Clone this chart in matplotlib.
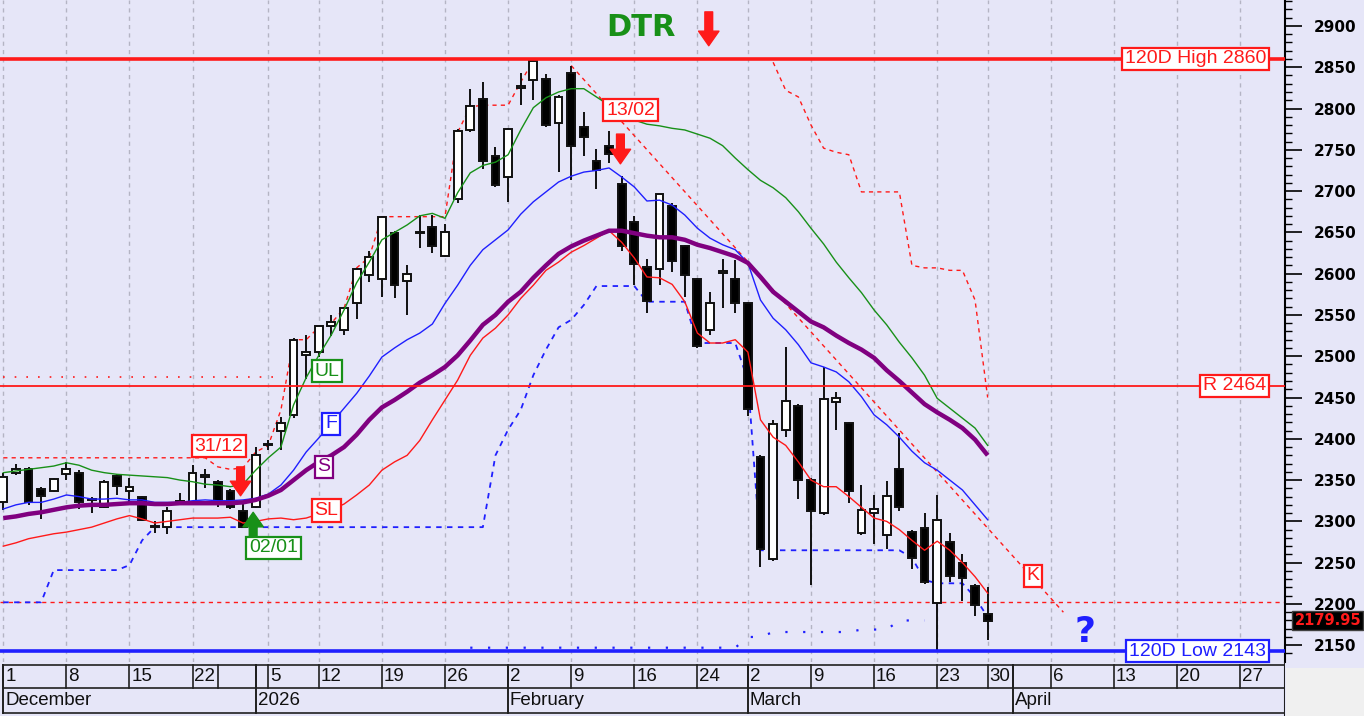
import numpy as np
import pandas as pd
import matplotlib
matplotlib.use("Agg")
import matplotlib.pyplot as plt
from matplotlib.patches import Rectangle

# ---------------- data ----------------
HOLIDAYS = ["2025-12-24", "2025-12-25", "2025-12-26", "2026-01-01",
            "2026-01-06", "2026-02-23", "2026-03-27"]
N_BARS = 79

OPEN = [2324, 2358, 2364, 2339, 2337, 2357, 2358, 2326, 2318, 2355,
        2337, 2330, 2293, 2293, 2325, 2324, 2354, 2348, 2337, 2313,
        2318, 2392, 2409, 2429, 2502, 2505, 2537, 2532, 2564, 2598,
        2594, 2649, 2591, 2649, 2657, 2621, 2691, 2774, 2812, 2742,
        2717, 2825, 2834, 2836, 2783, 2843, 2777, 2736, 2755, 2709,
        2662, 2608, 2606, 2682, 2633, 2593, 2532, 2601, 2593, 2564,
        2378, 2254, 2411, 2440, 2350, 2310, 2445, 2419, 2286, 2310,
        2283, 2364, 2287, 2292, 2201, 2275, 2250, 2222, 2188]
HIGH = [2358, 2369, 2366, 2342, 2353, 2372, 2362, 2330, 2350, 2357,
        2352, 2331, 2300, 2318, 2334, 2368, 2364, 2350, 2339, 2322,
        2390, 2398, 2427, 2522, 2526, 2537, 2550, 2560, 2607, 2627,
        2670, 2652, 2610, 2671, 2671, 2660, 2775, 2824, 2832, 2753,
        2776, 2843, 2860, 2842, 2816, 2851, 2796, 2751, 2773, 2718,
        2670, 2618, 2697, 2685, 2635, 2595, 2578, 2618, 2617, 2566,
        2380, 2423, 2511, 2442, 2352, 2487, 2457, 2420, 2344, 2332,
        2349, 2407, 2289, 2310, 2332, 2286, 2260, 2224, 2221]
LOW = [2314, 2356, 2320, 2303, 2335, 2350, 2315, 2310, 2316, 2332,
       2322, 2300, 2286, 2285, 2320, 2322, 2341, 2318, 2315, 2292,
       2316, 2386, 2386, 2425, 2473, 2499, 2524, 2526, 2545, 2590,
       2572, 2570, 2550, 2631, 2625, 2620, 2685, 2772, 2727, 2705,
       2687, 2804, 2810, 2777, 2723, 2714, 2742, 2703, 2734, 2627,
       2586, 2552, 2586, 2602, 2572, 2510, 2526, 2558, 2552, 2428,
       2245, 2252, 2402, 2327, 2223, 2308, 2411, 2322, 2284, 2273,
       2267, 2312, 2242, 2224, 2143, 2227, 2203, 2185, 2156]
CLOSE = [2354, 2363, 2323, 2331, 2351, 2364, 2324, 2327, 2348, 2343,
         2342, 2302, 2294, 2313, 2322, 2358, 2356, 2321, 2317, 2293,
         2380, 2393, 2419, 2520, 2505, 2536, 2542, 2558, 2606, 2620,
         2669, 2586, 2600, 2650, 2633, 2651, 2773, 2803, 2737, 2707,
         2775, 2827, 2857, 2780, 2814, 2754, 2765, 2725, 2745, 2633,
         2612, 2567, 2696, 2615, 2598, 2512, 2564, 2603, 2564, 2436,
         2266, 2418, 2446, 2350, 2312, 2448, 2450, 2337, 2314, 2315,
         2331, 2318, 2256, 2226, 2302, 2234, 2232, 2199, 2179.95]

UL = [2359, 2361, 2363, 2365, 2367, 2371, 2368, 2362, 2359, 2357,
      2356, 2355, 2354, 2353, 2350, 2348, 2345, 2344, 2342, 2345,
      2362, 2377, 2390, 2441, 2474, 2501, 2526, 2556, 2589, 2614,
      2641, 2650, 2659, 2670, 2673, 2667, 2698, 2722, 2731, 2735,
      2744, 2774, 2801, 2813, 2820, 2824, 2824, 2814, 2804, 2792,
      2786, 2781, 2779, 2776, 2774, 2769, 2764, 2755, 2740, 2726,
      2713, 2704, 2692, 2675, 2655, 2636, 2614, 2595, 2577, 2556,
      2538, 2517, 2498, 2477, 2449, 2437, 2425, 2413, 2392]
FAST = [2315, 2320, 2323, 2323, 2327, 2332, 2330, 2327, 2327, 2328,
        2326, 2326, 2323, 2323, 2323, 2325, 2326, 2325, 2325, 2326,
        2328, 2333, 2344, 2362, 2384, 2401, 2419, 2437, 2455, 2476,
        2499, 2510, 2520, 2528, 2539, 2564, 2586, 2610, 2629, 2641,
        2653, 2672, 2687, 2699, 2711, 2718, 2723, 2725, 2728, 2717,
        2705, 2688, 2689, 2683, 2671, 2655, 2643, 2635, 2629, 2613,
        2568, 2546, 2532, 2514, 2492, 2487, 2481, 2469, 2451, 2429,
        2417, 2402, 2385, 2371, 2362, 2350, 2338, 2320, 2302]
SLOW = [2304, 2306, 2309, 2311, 2314, 2317, 2319, 2320, 2320, 2321,
        2322, 2322, 2321, 2321, 2322, 2322, 2322, 2322, 2322, 2323,
        2326, 2331, 2338, 2350, 2362, 2372, 2380, 2390, 2405, 2423,
        2438, 2447, 2457, 2468, 2477, 2487, 2501, 2519, 2538, 2550,
        2566, 2578, 2595, 2610, 2624, 2633, 2640, 2646, 2652, 2652,
        2649, 2646, 2644, 2644, 2641, 2635, 2631, 2626, 2621, 2613,
        2596, 2578, 2566, 2554, 2542, 2535, 2525, 2516, 2508, 2498,
        2483, 2470, 2456, 2442, 2432, 2423, 2413, 2399, 2380]
SL = [2270, 2274, 2279, 2282, 2285, 2287, 2290, 2293, 2298, 2303,
      2307, 2303, 2298, 2300, 2302, 2304, 2304, 2304, 2305, 2298,
      2300, 2303, 2304, 2302, 2304, 2309, 2314, 2321, 2332, 2344,
      2362, 2372, 2380, 2398, 2423, 2447, 2471, 2501, 2522, 2534,
      2550, 2570, 2586, 2604, 2614, 2626, 2634, 2643, 2652, 2638,
      2619, 2596, 2595, 2587, 2566, 2528, 2516, 2516, 2520, 2505,
      2423, 2402, 2392, 2372, 2350, 2342, 2342, 2330, 2317, 2304,
      2300, 2290, 2277, 2265, 2276, 2265, 2250, 2233, 2213]

# red dashed trailing line over the rally (bars 0..42)
UP_TRAIL = [2377] * 17 + [2366, 2363, 2365, 2384, 2392, 2435, 2520, 2520, 2535,
                          2540, 2558, 2607, 2620, 2669, 2669, 2669, 2669, 2669,
                          2669, 2771, 2802, 2804, 2804, 2804, 2832, 2858]
# red dashed trailing line over the decline (bars 61..78)
DN_TRAIL = [2856, 2822, 2814, 2780, 2752, 2747, 2744, 2699, 2699, 2699,
            2699, 2610, 2607, 2607, 2604, 2604, 2568, 2450]
# blue dashed trailing support (bars 0..78)
LOW_TRAIL = [2202, 2202, 2202, 2202, 2241, 2241, 2241, 2241, 2241, 2241,
             2247, 2277, 2293, 2293, 2293, 2293, 2293, 2293, 2293, 2293,
             2293, 2293, 2293, 2293, 2293, 2293, 2293, 2293, 2293, 2293,
             2293, 2293, 2293, 2293, 2293, 2293, 2293, 2293, 2293, 2380,
             2411, 2435, 2477, 2508, 2535, 2544, 2562, 2585, 2585, 2585,
             2585, 2566, 2566, 2566, 2566, 2516, 2516, 2516, 2516, 2471,
             2265, 2265, 2265, 2265, 2265, 2265, 2265, 2265, 2265, 2265,
             2265, 2265, 2256, 2229, 2225, 2225, 2225, 2208, 2184]
# blue dotted line (bars 37..73)
LOW_DOT = [2147] * 22 + [2160, 2160, 2166, 2166, 2166, 2166, 2166, 2166, 2166,
                         2169, 2169, 2169, 2180, 2180, 2180]
LOW_DOT_START = 37

K_DATES = ["2026-02-09", "2026-04-07"]
K_VALUES = [2852, 2190]

HIGH_120D = 2860
LOW_120D = 2143
RESIST = 2464
LEVEL_DASH = 2202
LEVEL_DOT = 2475
LEVEL_DOT_END = 22

WEEK_STARTS = ["2025-12-01", "2025-12-08", "2025-12-15", "2025-12-22", "2025-12-29",
               "2026-01-02", "2026-01-05", "2026-01-12", "2026-01-19", "2026-01-26",
               "2026-02-02", "2026-02-09", "2026-02-16", "2026-02-24", "2026-03-02",
               "2026-03-09", "2026-03-16", "2026-03-23", "2026-03-30", "2026-04-01",
               "2026-04-06", "2026-04-13", "2026-04-20", "2026-04-27"]
WEEK_TEXT = ["1", "8", "15", "22", "", "", "5", "12", "19", "26", "2", "9", "16",
             "24", "2", "9", "16", "23", "30", "", "6", "13", "20", "27"]
MONTH_STARTS = ["2025-12-01", "2026-01-02", "2026-02-02", "2026-03-02", "2026-04-01"]
MONTH_TEXT = ["December", "2026", "February", "March", "April"]

# ---------------- setup ----------------
days = pd.bdate_range("2025-12-01", "2026-04-30")
days = days[~days.isin(pd.to_datetime(HOLIDAYS))]
pos = {d.strftime("%Y-%m-%d"): i for i, d in enumerate(days)}
idx = np.arange(N_BARS)

BG = "#e6e6f8"
RED = "#ff1a1a"
BLUE = "#1f1fff"
GREEN = "#189018"
PURPLE = "#800080"
LAB_FONT = ["Liberation Sans", "DejaVu Sans"]

fig = plt.figure(figsize=(13.64, 7.16), dpi=100, facecolor=BG)
XL = (-0.26, 101.56)
ax = fig.add_axes([0, 54 / 716, 1285 / 1364, 662 / 716])
ax.set_facecolor(BG)
ax.set_xlim(*XL)
ax.set_ylim(2129.7, 2931.4)

for s in ["left", "top", "bottom"]:
    ax.spines[s].set_visible(False)
ax.spines["right"].set_linewidth(1.5)
ax.yaxis.tick_right()
ax.set_xticks([])
ax.set_yticks(np.arange(2150, 2901, 50))
ax.set_yticks(np.arange(2140, 2931, 10), minor=True)
ax.tick_params(axis="y", which="major", length=12, width=1.2, pad=9,
               labelsize=11)
ax.tick_params(axis="y", which="minor", length=5, width=1.0)
for lab in ax.get_yticklabels():
    lab.set_fontweight("bold")

# vertical week grid
for d, t in zip(WEEK_STARTS, WEEK_TEXT):
    if t:
        ax.axvline(pos[d], color="#b4b4c4", lw=1.0, ls=(0, (3, 3)), zorder=0)

# levels
ax.axhline(LEVEL_DASH, color=RED, lw=1.0, ls=(0, (3, 3)), zorder=1)
ax.plot(np.arange(0, LEVEL_DOT_END + 1), [LEVEL_DOT] * (LEVEL_DOT_END + 1),
        color=RED, lw=1.2, ls=(0, (1, 6)), zorder=1)

# trailing lines
ax.plot(np.arange(len(UP_TRAIL)), UP_TRAIL, color=RED, lw=1.0, ls=(0, (3, 3)), zorder=2)
ax.plot(np.arange(61, 61 + len(DN_TRAIL)), DN_TRAIL, color=RED, lw=1.0,
        ls=(0, (3, 3)), zorder=2)
ax.plot(idx, LOW_TRAIL, color=BLUE, lw=1.3, ls=(0, (3, 3)), zorder=2)
ax.plot(np.arange(LOW_DOT_START, LOW_DOT_START + len(LOW_DOT)), LOW_DOT,
        color=BLUE, lw=1.6, ls=(0, (1, 7)), zorder=2)
ax.plot([pos[d] for d in K_DATES], K_VALUES, color=RED, lw=1.0,
        ls=(0, (3, 3)), zorder=2)

# candles
o = np.array(OPEN, float); c = np.array(CLOSE, float)
h = np.array(HIGH, float); l = np.array(LOW, float)
up = c >= o
ax.vlines(idx, l, h, color="#101010", lw=1.4, zorder=3)
bottoms = np.minimum(o, c)
heights = np.maximum(np.abs(c - o), 1.2)
ax.bar(idx, heights, bottom=bottoms, width=0.62,
       color=np.where(up, "white", "black"), edgecolor="#101010",
       linewidth=1.4, zorder=4)

# moving lines
ax.plot(idx, UL, color=GREEN, lw=1.0, zorder=5)
ax.plot(idx, FAST, color=BLUE, lw=1.0, zorder=5)
ax.plot(idx, SL, color=RED, lw=1.0, zorder=5)
ax.plot(idx, SLOW, color=PURPLE, lw=3.2, zorder=5, solid_capstyle="butt")

# solid levels
ax.axhline(HIGH_120D, color=RED, lw=2.6, zorder=6)
ax.axhline(RESIST, color=RED, lw=1.3, zorder=6)
ax.axhline(LOW_120D, color=BLUE, lw=2.6, zorder=6)


def box(x, y, s, col, ha="center", fs=14, pad=0.14):
    ax.text(x, y, s, color=col, fontsize=fs, ha=ha, va="center",
            family=LAB_FONT, zorder=8,
            bbox=dict(boxstyle=f"square,pad={pad}", fc="white", ec=col, lw=1.6))


box(25.65, 2482, "UL", GREEN)
box(25.97, 2418, "F", BLUE)
box(25.4, 2366, "S", PURPLE)
box(25.6, 2313, "SL", RED)
box(17.1, 2391, "31/12", RED)
box(21.4, 2268, "02/01", GREEN)
box(49.7, 2798, "13/02", RED)
box(81.6, 2234, "K", RED)
box(100.05, HIGH_120D, f"120D High {HIGH_120D}", RED, ha="right")
box(100.05, RESIST, f"R {RESIST}", RED, ha="right")
box(100.05, LOW_120D, f"120D Low {LOW_120D}", BLUE, ha="right")


def arrow(x, y0, y1, col):
    ax.annotate("", xy=(x, y1), xytext=(x, y0), zorder=9,
                arrowprops=dict(arrowstyle="simple,head_width=1.05,head_length=0.75,tail_width=0.4",
                                color=col, mutation_scale=14, shrinkA=0, shrinkB=0))


arrow(55.9, 2917, 2876, RED)
arrow(18.8, 2366, 2331, RED)
arrow(19.8, 2281, 2311, GREEN)
arrow(48.9, 2769, 2733, RED)

ax.text(50.5, 2898, "DTR", color=GREEN, fontsize=22, fontweight="bold",
        ha="center", va="center", family="DejaVu Sans", zorder=9)
ax.text(85.7, 2166, "?", color=BLUE, fontsize=26, fontweight="bold",
        ha="center", va="center", family="DejaVu Sans", zorder=9)

# last price tag
last = CLOSE[-1]
ax.text(1.0075, last, f"{last:.2f}", transform=ax.get_yaxis_transform(),
        color=RED, fontsize=10.5, fontweight="bold", ha="left", va="center",
        family="DejaVu Sans", zorder=10, clip_on=False,
        bbox=dict(boxstyle="square,pad=0.15", fc="black", ec="#404040", lw=1))

# ---------------- date strip ----------------
bx = fig.add_axes([0, 0, 1285 / 1364, 54 / 716])
bx.set_facecolor(BG)
bx.set_xlim(*XL)
bx.set_ylim(0, 54)
bx.axis("off")
x_end = XL[1]
x0 = pos[WEEK_STARTS[0]]
for yy in (51, 28, 3):
    bx.plot([x0, x_end], [yy, yy], color="#202020", lw=1.2)
bx.plot([x_end, x_end], [0, 54], color="#202020", lw=1.5)
for d, t in zip(WEEK_STARTS, WEEK_TEXT):
    xx = pos[d]
    bx.plot([xx, xx], [28, 51], color="#202020", lw=1.2)
    if t:
        bx.text(xx + 0.15, 39.5, t, fontsize=13.5, ha="left", va="center",
                family=LAB_FONT, color="#101010")
for d, t in zip(MONTH_STARTS, MONTH_TEXT):
    xx = pos[d]
    bx.plot([xx, xx], [3, 51], color="#202020", lw=1.4)
    bx.text(xx + 0.15, 15.5, t, fontsize=13.5, ha="left", va="center",
            family=LAB_FONT, color="#101010")

fig.patches.append(Rectangle((1286 / 1364, 0), 78 / 1364, 48 / 716,
                             transform=fig.transFigure, fc="#f0f0f0", ec="none"))

fig.savefig("out.png", dpi=100, facecolor=BG)
